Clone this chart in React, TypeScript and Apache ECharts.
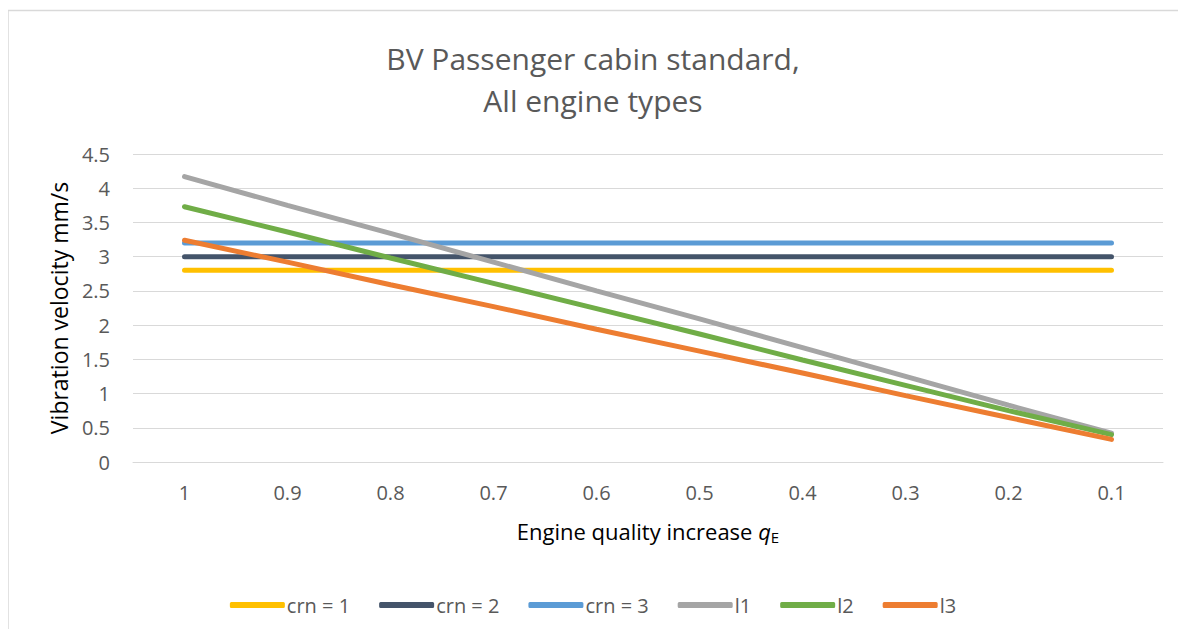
import React, { useEffect, useRef } from "react";
import * as echarts from "echarts";

const categories = ["1", "0.9", "0.8", "0.7", "0.6", "0.5", "0.4", "0.3", "0.2", "0.1"];
const crn1 = [2.8, 2.8, 2.8, 2.8, 2.8, 2.8, 2.8, 2.8, 2.8, 2.8];
const crn2 = [3.0, 3.0, 3.0, 3.0, 3.0, 3.0, 3.0, 3.0, 3.0, 3.0];
const crn3 = [3.2, 3.2, 3.2, 3.2, 3.2, 3.2, 3.2, 3.2, 3.2, 3.2];
const l1 = [4.17, 3.75, 3.34, 2.92, 2.5, 2.09, 1.67, 1.25, 0.83, 0.42];
const l2 = [3.73, 3.36, 2.98, 2.61, 2.24, 1.87, 1.49, 1.12, 0.75, 0.4];
const l3 = [3.24, 2.92, 2.59, 2.27, 1.94, 1.62, 1.3, 0.97, 0.65, 0.33];

const seriesNames = ["crn = 1", "crn = 2", "crn = 3", "l1", "l2", "l3"];
const seriesData = [crn1, crn2, crn3, l1, l2, l3];
const colors = ["#FFC000", "#44546A", "#5B9BD5", "#A5A5A5", "#70AD47", "#ED7D31"];

const FONT = "'Open Sans', 'Noto Sans', sans-serif";

export default function App() {
  const ref = useRef<HTMLDivElement>(null);
  useEffect(() => {
    if (!ref.current) return;
    const chart = echarts.init(ref.current, null, { renderer: "svg" });
    chart.setOption({
      animation: false,
      backgroundColor: "#ffffff",
      graphic: [
        { type: "line", shape: { x1: 0, y1: 2.5, x2: 1170, y2: 2.5 }, style: { stroke: "#D9D9D9", lineWidth: 1.5 } },
        { type: "line", shape: { x1: 0, y1: 2, x2: 0, y2: 621 }, style: { stroke: "#D9D9D9", lineWidth: 1.5 } },
      ],
      title: {
        text: "BV Passenger cabin standard,\nAll engine types",
        left: "center",
        top: 24,
        textStyle: {
          fontFamily: FONT,
          fontSize: 30,
          fontWeight: "normal",
          color: "#595959",
          lineHeight: 42,
        },
      },
      legend: {
        data: seriesNames,
        left: "center",
        top: 582,
        icon: "roundRect",
        itemWidth: 55,
        itemHeight: 6,
        itemGap: 29,
        textStyle: { fontFamily: FONT, fontSize: 20, color: "#595959", padding: [0, 0, 0, -3] },
      },
      grid: { left: 125, right: 15, top: 146, bottom: 167 },
      xAxis: {
        type: "category",
        data: categories,
        boundaryGap: true,
        axisLine: { lineStyle: { color: "#D9D9D9", width: 1 } },
        axisTick: { show: false },
        axisLabel: { fontFamily: FONT, fontSize: 20, color: "#595959", margin: 20 },
        name: "{n|Engine quality increase }{q|q}{e|E}",
        nameLocation: "middle",
        nameGap: 55,
        nameTextStyle: {
          rich: {
            n: { fontFamily: FONT, fontSize: 22, color: "#000000" },
            q: { fontFamily: FONT, fontSize: 22, fontStyle: "italic", color: "#000000" },
            e: { fontFamily: FONT, fontSize: 15, color: "#000000", padding: [12, 0, 0, 0] },
          },
        },
      },
      yAxis: {
        type: "value",
        min: 0,
        max: 4.5,
        interval: 0.5,
        axisLine: { show: false },
        axisTick: { show: false },
        splitLine: { lineStyle: { color: "#D9D9D9", width: 1 } },
        axisLabel: { fontFamily: FONT, fontSize: 20, color: "#595959", margin: 23 },
        name: "Vibration velocity mm/s",
        nameLocation: "middle",
        nameGap: 61,
        nameTextStyle: { fontFamily: FONT, fontSize: 23, color: "#000000" },
      },
      series: seriesNames.map((name, i) => ({
        name,
        type: "line",
        data: seriesData[i],
        symbol: "none",
        color: colors[i],
        lineStyle: { color: colors[i], width: 5, cap: "round" },
      })),
    });
    return () => chart.dispose();
  }, []);
  return <div ref={ref} style={{ width: 1170, height: 621 }} />;
}
